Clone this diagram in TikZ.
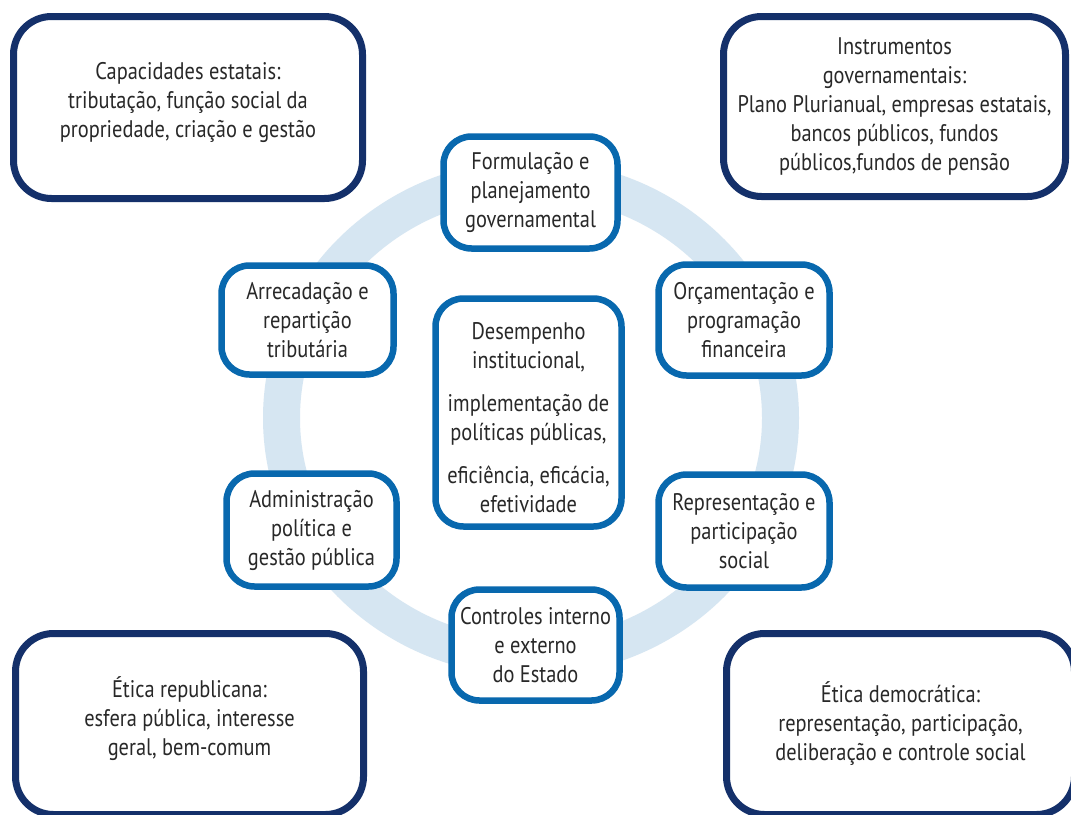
\documentclass[tikz,border=0pt]{standalone}
\usepackage{fontspec}
\setmainfont[FakeStretch=0.85]{PT Sans}
\definecolor{navyc}{RGB}{20,48,106}
\definecolor{bluec}{RGB}{8,104,174}
\definecolor{ringc}{RGB}{214,230,242}
\definecolor{textc}{RGB}{40,40,40}
\tikzset{
  txt/.style={text=textc, align=center, inner sep=0pt,
    font=\fontsize{24}{29}\selectfont},
  basebox/.style={txt, fill=white},
  outerbox/.style={basebox, draw=navyc, line width=7pt, rounded corners=38pt},
  innerbox/.style={basebox, draw=bluec, line width=6.5pt, rounded corners=28pt},
}
\begin{document}
\begin{tikzpicture}[x=1pt,y=-1pt]
\useasboundingbox (0,0) rectangle (1071,814);
\clip (0,0) rectangle (1071,814);
\fill[white] (0,0) rectangle (1071,814);
% ring
\draw[ringc, line width=37pt] (531,418) ellipse [x radius=249.5pt, y radius=239.5pt];
% outer boxes
\node[outerbox, minimum width=349pt, minimum height=182pt] (tl) at (188,107.5) {};
\node[txt] (tltext) at (188,102)
  {Capacidades estatais:\\tributação, função social da\\propriedade, criação e gestão};
\node[outerbox, minimum width=342pt, minimum height=180pt] (tr) at (894.5,106.5)
  {Instrumentos\\governamentais:\\Plano Plurianual, empresas estatais,\\bancos públicos, fundos\\públicos,fundos de pensão};
\node[outerbox, minimum width=348pt, minimum height=181pt] (bl) at (189.5,724) {};
\node[txt] (bltext) at (189.5,719)
  {Ética republicana:\\esfera pública, interesse\\geral, bem-comum};
\node[outerbox, minimum width=348pt, minimum height=181pt] (br) at (900.5,724)
  {Ética democrática:\\representação, participação,\\deliberação e controle social};
% inner boxes
\node[innerbox, minimum width=174pt, minimum height=112pt] (form) at (530.5,192.5)
  {Formulação e\\planejamento\\governamental};
\node[innerbox, minimum width=172pt, minimum height=109pt] (arrec) at (307.5,320)
  {Arrecadação e\\repartição\\tributária};
\node[innerbox, minimum width=171pt, minimum height=111pt] (orc) at (744,320)
  {Orçamentação e\\programação\\financeira};
\node[innerbox, minimum width=170pt, minimum height=113pt] (admin) at (311.5,530)
  {Administração\\política e\\gestão pública};
\node[innerbox, minimum width=171pt, minimum height=113pt] (repr) at (744,531)
  {Representação e\\participação\\social};
\node[innerbox, minimum width=168pt, minimum height=111pt] (contr) at (535.5,645)
  {Controles interno\\e externo\\do Estado};
\node[innerbox, minimum width=186pt, minimum height=228pt] (desemp) at (528.5,412.5) {};
\node[txt] (desemptext) at (528.5,418)
  {Desempenho\\institucional,\\[14pt]implementação de\\políticas públicas,\\[14pt]eficiência, eficácia,\\efetividade};
\end{tikzpicture}
\end{document}
